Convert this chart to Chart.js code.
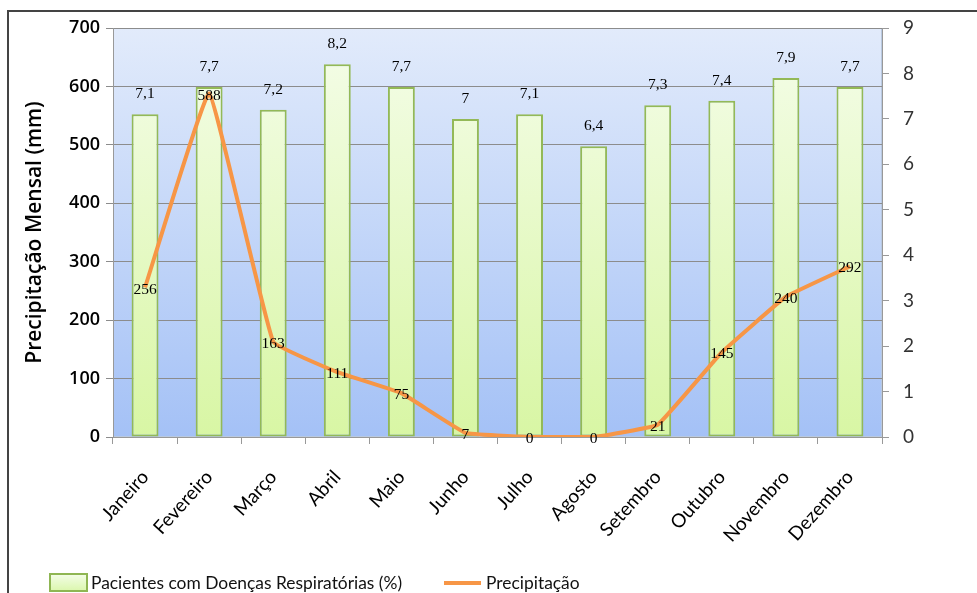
<!DOCTYPE html>
<html>
<head>
<meta charset="utf-8">
<script src="https://cdn.jsdelivr.net/npm/chart.js@4.4.1/dist/chart.umd.min.js"></script>
<style>
  html, body { margin: 0; padding: 0; background: #fff; }
  #wrap { position: relative; width: 977px; height: 593px; overflow: hidden; }
  #frame { position: absolute; left: 7px; top: 10px; width: 1000px; height: 620px; border: 2px solid #444; box-sizing: border-box; }
  #legend { position: absolute; left: 49px; top: 572px; font: 17.4px Lato, sans-serif; color: #111; display: flex; align-items: center; }
  #legend .box { width: 35px; height: 15px; border: 2px solid #8fb653; background: linear-gradient(#f2fde4, #dcf7b0); margin-right: 3px; }
  #legend .ln { width: 37px; height: 4px; background: #f79646; margin: 0 5px 0 42px; }
</style>
</head>
<body>
<div id="wrap">
  <div id="frame"></div>
  <canvas id="c" width="977" height="593"></canvas>
  <div id="legend">
    <span class="box"></span><span>Pacientes com Doenças Respiratórias (%)</span>
    <span class="ln"></span><span>Precipitação</span>
  </div>
</div>
<script>
// dados
const meses = ['Janeiro', 'Fevereiro', 'Março', 'Abril', 'Maio', 'Junho', 'Julho', 'Agosto', 'Setembro', 'Outubro', 'Novembro', 'Dezembro'];
const pacientes = [7.1, 7.7, 7.2, 8.2, 7.7, 7, 7.1, 6.4, 7.3, 7.4, 7.9, 7.7];
const precipitacao = [256, 588, 163, 111, 75, 7, 0, 0, 21, 145, 240, 292];
const ticksEsq = [0, 100, 200, 300, 400, 500, 600, 700];
const ticksDir = [0, 1, 2, 3, 4, 5, 6, 7, 8, 9];

const fmt = v => String(v).replace('.', ',');

// fundo azul da área do gráfico
const fundo = {
    id: 'fundo',
    beforeDraw(chart) {
        const { ctx, chartArea: a } = chart;
        const g = ctx.createLinearGradient(0, a.top, 0, a.bottom);
        g.addColorStop(0, '#e2ebfb');
        g.addColorStop(1, '#a4c1f6');
        ctx.save();
        ctx.fillStyle = g;
        ctx.fillRect(a.left, a.top, a.right - a.left, a.bottom - a.top);
        ctx.strokeStyle = '#b9c9e0';
        ctx.lineWidth = 1;
        ctx.strokeRect(a.left + 0.5, a.top + 0.5, a.right - a.left - 1, a.bottom - a.top - 1);
        ctx.restore();
    }
};

// rótulos de valores
const rotulos = {
    id: 'rotulos',
    afterDatasetsDraw(chart) {
        const ctx = chart.ctx;
        ctx.save();
        ctx.font = '15.5px "Liberation Serif", serif';
        ctx.fillStyle = '#000';
        ctx.textAlign = 'center';
        ctx.textBaseline = 'middle';
        chart.getDatasetMeta(0).data.forEach((el, i) => {
            ctx.fillText(fmt(pacientes[i]), el.x, el.y - 20);
        });
        chart.getDatasetMeta(1).data.forEach((el, i) => {
            ctx.fillText(fmt(precipitacao[i]), el.x, el.y + 2);
        });
        ctx.restore();
    }
};

const ctx = document.getElementById('c').getContext('2d');
new Chart(ctx, {
    data: {
        labels: meses,
        datasets: [{
            type: 'bar',
            label: 'Pacientes com Doenças Respiratórias (%)',
            data: pacientes,
            yAxisID: 'y1',
            order: 2,
            backgroundColor: c => {
                const a = c.chart.chartArea;
                if (!a) return '#e6f9c8';
                const g = c.chart.ctx.createLinearGradient(0, a.top, 0, a.bottom);
                g.addColorStop(0, '#f5fdea');
                g.addColorStop(1, '#d8f6a4');
                return g;
            },
            borderColor: '#93b957',
            borderWidth: 2,
            borderSkipped: false,
            barPercentage: 0.84,
            categoryPercentage: 0.5
        }, {
            type: 'line',
            label: 'Precipitação',
            data: precipitacao,
            yAxisID: 'y',
            order: 1,
            borderColor: '#f79646',
            borderWidth: 4,
            pointRadius: 0,
            tension: 0.08,
            fill: false
        }]
    },
    options: {
        responsive: false,
        animation: false,
        layout: { padding: { top: 28, left: 0, right: 0, bottom: 0 } },
        plugins: { legend: { display: false }, tooltip: { enabled: false } },
        scales: {
            x: {
                grid: { offset: true, drawOnChartArea: false, drawTicks: true, tickLength: 7, color: '#999' },
                border: { color: '#999' },
                ticks: {
                    color: '#000',
                    font: { family: 'Lato', size: 19 },
                    maxRotation: 48, minRotation: 48, padding: 22
                },
                afterFit: s => { s.height = 156; }
            },
            y: {
                position: 'left',
                min: 0, max: 700,
                afterBuildTicks: s => { s.ticks = ticksEsq.map(v => ({ value: v })); },
                grid: { color: '#8c8c8c', tickLength: 7 },
                border: { color: '#999' },
                ticks: { color: '#000', font: { family: 'Open Sans', size: 18, weight: '600' }, padding: 6 },
                title: {
                    display: true,
                    text: 'Precipitação Mensal (mm)',
                    color: '#000',
                    font: { family: 'Open Sans', size: 21, weight: '600' },
                    padding: { top: 22, bottom: 0 }
                },
                afterFit: s => { s.width = 113; }
            },
            y1: {
                position: 'right',
                min: 0, max: 9,
                afterBuildTicks: s => { s.ticks = ticksDir.map(v => ({ value: v })); },
                grid: { drawOnChartArea: false, color: '#999', tickLength: 7 },
                border: { color: '#999' },
                ticks: { color: '#333', font: { family: 'Lato', size: 19 }, padding: 14 },
                afterFit: s => { s.width = 95; }
            }
        }
    },
    plugins: [fundo, rotulos]
});
</script>
</body>
</html>
